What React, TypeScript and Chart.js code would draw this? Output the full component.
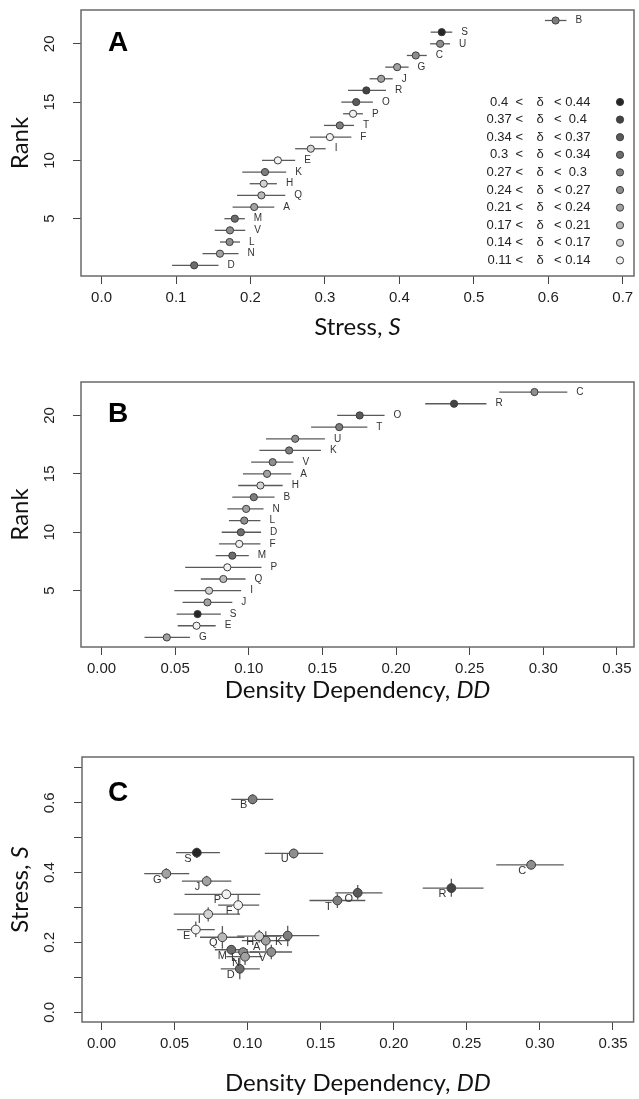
import React, { useEffect, useRef } from "react";
import { Chart, registerables } from "chart.js";
Chart.register(...registerables);

// ---------------- DATA ----------------
const populations = ["A","B","C","D","E","F","G","H","I","J","K","L","M","N","O","P","Q","R","S","T","U","V"];
const stressMean = [0.205,0.6098,0.422,0.1244,0.2368,0.3067,0.397,0.2178,0.281,0.3755,0.2195,0.172,0.179,0.159,0.342,0.3378,0.2147,0.3556,0.4569,0.32,0.4547,0.1725];
const stressLow  = [0.176,0.5955,0.41,0.0947,0.2155,0.28,0.381,0.199,0.26,0.36,0.189,0.159,0.165,0.1356,0.322,0.3244,0.182,0.331,0.442,0.2987,0.4413,0.152];
const stressHigh = [0.232,0.6244,0.4368,0.157,0.26,0.3355,0.4124,0.2355,0.301,0.391,0.248,0.186,0.1924,0.184,0.3644,0.351,0.2467,0.382,0.471,0.339,0.468,0.193];
const ddMean = [0.1124,0.1034,0.294,0.0946,0.0645,0.0935,0.0443,0.1079,0.073,0.0719,0.1274,0.0969,0.0888,0.0982,0.1753,0.0854,0.0827,0.2394,0.0652,0.1614,0.1315,0.1162];
const ddLow  = [0.096,0.0888,0.2701,0.0816,0.0517,0.0798,0.0292,0.0928,0.0494,0.055,0.1072,0.0865,0.0775,0.0854,0.16,0.0568,0.0674,0.2198,0.051,0.1423,0.1117,0.1016];
const ddHigh = [0.1288,0.1175,0.3163,0.1083,0.0775,0.1079,0.06,0.123,0.0948,0.0888,0.149,0.1079,0.1,0.11,0.1922,0.1086,0.0978,0.2614,0.081,0.1805,0.1517,0.1303];
// index into the delta legend classes (0 = 0.4 < δ < 0.44 ... 9 = 0.11 < δ < 0.14)
const deltaClass = [6,4,5,3,9,9,6,8,8,6,4,5,3,6,2,9,7,1,0,4,5,5];

const legendLow  = ["0.4  <","0.37 <","0.34 <","0.3  <","0.27 <","0.24 <","0.21 <","0.17 <","0.14 <","0.11 <"];
const legendHigh = ["< 0.44","<  0.4","< 0.37","< 0.34","<  0.3","< 0.27","< 0.24","< 0.21","< 0.17","< 0.14"];
const legendFill = ["#262626","#444444","#5a5a5a","#6c6c6c","#7e7e7e","#8e8e8e","#a2a2a2","#b8b8b8","#d2d2d2","#f2f2f2"];

const stressTicks = [0,0.1,0.2,0.3,0.4,0.5,0.6,0.7];
const stressTickLabels = ["0.0","0.1","0.2","0.3","0.4","0.5","0.6","0.7"];
const ddTicks = [0,0.05,0.1,0.15,0.2,0.25,0.3,0.35];
const ddTickLabels = ["0.00","0.05","0.10","0.15","0.20","0.25","0.30","0.35"];
const rankTicks = [5,10,15,20];
const rankTickLabels = ["5","10","15","20"];
const stressYTickLabels = ["0.0","","0.2","","0.4","","0.6",""];

// ---------------- STYLE ----------------
const W = 639;
const SANS = '"Liberation Sans", Arial, sans-serif';
const TITLE = 'Lato, "Open Sans", sans-serif';
const TITLE_SIZE = 24;
const TICK_SIZE = 15;
const BAR = "#5a5a5a";
const EDGE = "#3c3c3c";

function rankOf(values: number[]): number[] {
  const order = values.map((_, i) => i).sort((a, b) => values[a] - values[b]);
  const r: number[] = new Array(values.length);
  order.forEach((idx, k) => (r[idx] = k + 1));
  return r;
}
const rankStress = rankOf(stressMean);
const rankDD = rankOf(ddMean);

function scaleOpts(min: number, max: number, ticks: number[], labels: string[] | null, size: number, isX: boolean, pad: number) {
  return {
    type: "linear",
    position: isX ? "bottom" : "left",
    min,
    max,
    afterBuildTicks: (s: any) => { s.ticks = ticks.map((v) => ({ value: v })); },
    afterFit: (s: any) => { if (isX) s.height = size; else s.width = size; },
    grid: { drawOnChartArea: false, drawTicks: true, tickLength: 8, color: "#444", lineWidth: 1 },
    border: { display: false },
    ticks: {
      display: !!labels,
      autoSkip: false,
      maxRotation: 0,
      minRotation: 0,
      padding: pad,
      color: "#1e1e1e",
      font: { family: SANS, size: TICK_SIZE },
      callback: (_v: any, i: number) => (labels ? labels[i] : ""),
    },
  };
}

function segment(x0: number, y0: number, x1: number, y1: number) {
  return {
    type: "line",
    data: [{ x: x0, y: y0 }, { x: x1, y: y1 }],
    borderColor: BAR,
    borderWidth: 1.3,
    pointRadius: 0,
    showLine: true,
    fill: false,
    order: 2,
  };
}

function drawXTitle(ctx: CanvasRenderingContext2D, cx: number, cy: number, normal: string, italic: string) {
  ctx.save();
  ctx.fillStyle = "#111";
  ctx.textBaseline = "middle";
  ctx.textAlign = "left";
  ctx.font = `${TITLE_SIZE}px ${TITLE}`;
  const w1 = ctx.measureText(normal).width;
  ctx.font = `italic ${TITLE_SIZE}px ${TITLE}`;
  const w2 = ctx.measureText(italic).width;
  const x0 = cx - (w1 + w2) / 2;
  ctx.font = `${TITLE_SIZE}px ${TITLE}`;
  ctx.fillText(normal, x0, cy);
  ctx.font = `italic ${TITLE_SIZE}px ${TITLE}`;
  ctx.fillText(italic, x0 + w1, cy);
  ctx.restore();
}

function drawYTitle(ctx: CanvasRenderingContext2D, cx: number, cy: number, normal: string, italic: string) {
  ctx.save();
  ctx.translate(cx, cy);
  ctx.rotate(-Math.PI / 2);
  drawXTitle(ctx, 0, 0, normal, italic);
  ctx.restore();
}

function drawYTickLabels(ctx: CanvasRenderingContext2D, yScale: any, ticks: number[], labels: string[], cx: number) {
  ctx.save();
  ctx.fillStyle = "#1e1e1e";
  ctx.font = `${TICK_SIZE}px ${SANS}`;
  ctx.textAlign = "center";
  ctx.textBaseline = "middle";
  ticks.forEach((v, i) => {
    if (!labels[i]) return;
    const y = yScale.getPixelForValue(v);
    ctx.save();
    ctx.translate(cx, y);
    ctx.rotate(-Math.PI / 2);
    ctx.fillText(labels[i], 0, 0);
    ctx.restore();
  });
  ctx.restore();
}

function drawBox(ctx: CanvasRenderingContext2D, a: any) {
  ctx.save();
  ctx.strokeStyle = "#6a6a6a";
  ctx.lineWidth = 1.5;
  ctx.strokeRect(a.left, a.top, a.right - a.left, a.bottom - a.top);
  ctx.restore();
}

function drawPanelLetter(ctx: CanvasRenderingContext2D, letter: string, x: number, y: number) {
  ctx.save();
  ctx.fillStyle = "#000";
  ctx.font = `bold 28px ${SANS}`;
  ctx.textAlign = "center";
  ctx.textBaseline = "middle";
  ctx.fillText(letter, x, y);
  ctx.restore();
}

const baseOptions = (padTop: number) => ({
  responsive: false,
  animation: false,
  devicePixelRatio: 1,
  events: [],
  layout: { padding: { top: padTop, right: 1, left: 0, bottom: 0 } },
  plugins: { legend: { display: false }, tooltip: { enabled: false } },
});

const pointDataset = (data: { x: number; y: number }[], r: number) => ({
  type: "scatter",
  data,
  pointRadius: r,
  pointBackgroundColor: deltaClass.map((c) => legendFill[c]),
  pointBorderColor: EDGE,
  pointBorderWidth: 1,
  showLine: false,
  order: 0,
});

// ---------------- PANEL A ----------------
function makeA(canvas: HTMLCanvasElement) {
  const datasets: any[] = [pointDataset(populations.map((_, i) => ({ x: stressMean[i], y: rankStress[i] })), 3.6)];
  populations.forEach((_, i) => datasets.push(segment(stressLow[i], rankStress[i], stressHigh[i], rankStress[i])));
  const plugin = {
    id: "panelA",
    afterDatasetsDraw(chart: any) {
      const { ctx, scales, chartArea } = chart;
      const xs = scales.x, ys = scales.y;
      ctx.save();
      ctx.fillStyle = "#333";
      ctx.font = `10px ${SANS}`;
      ctx.textBaseline = "middle";
      ctx.textAlign = "left";
      populations.forEach((p, i) => {
        ctx.fillText(p, xs.getPixelForValue(stressHigh[i]) + 9, ys.getPixelForValue(rankStress[i]));
      });
      // legend
      ctx.font = `13px ${SANS}`;
      ctx.fillStyle = "#222";
      legendLow.forEach((t, k) => {
        const y = 102 + k * 17.6;
        ctx.textAlign = "right";
        ctx.fillText(t, 523, y);
        ctx.textAlign = "center";
        ctx.fillText("δ", 540, y);
        ctx.textAlign = "left";
        ctx.fillText(legendHigh[k], 554, y);
        ctx.beginPath();
        ctx.arc(620, y, 3.6, 0, Math.PI * 2);
        ctx.fillStyle = legendFill[k];
        ctx.fill();
        ctx.strokeStyle = EDGE;
        ctx.lineWidth = 1;
        ctx.stroke();
        ctx.fillStyle = "#222";
      });
      ctx.restore();
      drawBox(ctx, chartArea);
      drawPanelLetter(ctx, "A", 118, 43);
      drawYTickLabels(ctx, ys, rankTicks, rankTickLabels, 50);
      drawXTitle(ctx, (chartArea.left + chartArea.right) / 2, 327, "Stress, ", "S");
      drawYTitle(ctx, 20, (chartArea.top + chartArea.bottom) / 2, "Rank", "");
    },
  };
  return new Chart(canvas, {
    type: "scatter",
    data: { datasets },
    options: {
      ...baseOptions(10),
      scales: {
        x: scaleOpts(-0.0276, 0.7151, stressTicks, stressTickLabels, 345 - 276, true, 5),
        y: scaleOpts(0.084, 22.9, rankTicks, null, 81, false, 0),
      },
    } as any,
    plugins: [plugin],
  } as any);
}

// ---------------- PANEL B ----------------
const B_TOP = 345;
function makeB(canvas: HTMLCanvasElement) {
  const datasets: any[] = [pointDataset(populations.map((_, i) => ({ x: ddMean[i], y: rankDD[i] })), 3.6)];
  populations.forEach((_, i) => datasets.push(segment(ddLow[i], rankDD[i], ddHigh[i], rankDD[i])));
  const plugin = {
    id: "panelB",
    afterDatasetsDraw(chart: any) {
      const { ctx, scales, chartArea } = chart;
      const xs = scales.x, ys = scales.y;
      ctx.save();
      ctx.fillStyle = "#333";
      ctx.font = `10px ${SANS}`;
      ctx.textBaseline = "middle";
      ctx.textAlign = "left";
      populations.forEach((p, i) => {
        ctx.fillText(p, xs.getPixelForValue(ddHigh[i]) + 9, ys.getPixelForValue(rankDD[i]));
      });
      ctx.restore();
      drawBox(ctx, chartArea);
      drawPanelLetter(ctx, "B", 118, 414 - B_TOP);
      drawYTickLabels(ctx, ys, rankTicks, rankTickLabels, 50);
      drawXTitle(ctx, (chartArea.left + chartArea.right) / 2, 690 - B_TOP, "Density Dependency, ", "DD");
      drawYTitle(ctx, 20, (chartArea.top + chartArea.bottom) / 2, "Rank", "");
    },
  };
  return new Chart(canvas, {
    type: "scatter",
    data: { datasets },
    options: {
      ...baseOptions(382 - B_TOP),
      scales: {
        x: scaleOpts(-0.01396, 0.3616, ddTicks, ddTickLabels, 710 - 647, true, 5),
        y: scaleOpts(0.18, 22.86, rankTicks, null, 81, false, 0),
      },
    } as any,
    plugins: [plugin],
  } as any);
}

// ---------------- PANEL C ----------------
const C_TOP = 710;
function makeC(canvas: HTMLCanvasElement) {
  const datasets: any[] = [pointDataset(populations.map((_, i) => ({ x: ddMean[i], y: stressMean[i] })), 4.4)];
  populations.forEach((_, i) => {
    datasets.push(segment(ddLow[i], stressMean[i], ddHigh[i], stressMean[i]));
    datasets.push(segment(ddMean[i], stressLow[i], ddMean[i], stressHigh[i]));
  });
  const plugin = {
    id: "panelC",
    afterDatasetsDraw(chart: any) {
      const { ctx, scales, chartArea } = chart;
      const xs = scales.x, ys = scales.y;
      ctx.save();
      ctx.fillStyle = "#333";
      ctx.font = `11px ${SANS}`;
      ctx.textBaseline = "middle";
      ctx.textAlign = "center";
      populations.forEach((p, i) => {
        ctx.fillText(p, xs.getPixelForValue(ddMean[i]) - 9, ys.getPixelForValue(stressMean[i]) + 6);
      });
      ctx.restore();
      drawBox(ctx, chartArea);
      drawPanelLetter(ctx, "C", 118, 793 - C_TOP);
      drawYTickLabels(ctx, ys, stressTicks, stressYTickLabels, 50);
      drawXTitle(ctx, (chartArea.left + chartArea.right) / 2, 1083 - C_TOP, "Density Dependency, ", "DD");
      drawYTitle(ctx, 20, (chartArea.top + chartArea.bottom) / 2, "Stress, ", "S");
    },
  };
  return new Chart(canvas, {
    type: "scatter",
    data: { datasets },
    options: {
      ...baseOptions(757 - C_TOP),
      scales: {
        x: scaleOpts(-0.01337, 0.3641, ddTicks, ddTickLabels, 1099 - 1022, true, 5),
        y: scaleOpts(-0.028, 0.731, stressTicks, null, 82, false, 0),
      },
    } as any,
    plugins: [plugin],
  } as any);
}

function Panel({ top, height, make }: { top: number; height: number; make: (c: HTMLCanvasElement) => Chart }) {
  const ref = useRef<HTMLCanvasElement>(null);
  useEffect(() => {
    const chart = make(ref.current!);
    return () => chart.destroy();
  }, []);
  return (
    <canvas
      ref={ref}
      width={W}
      height={height}
      style={{ position: "absolute", left: 0, top, width: W, height, display: "block" }}
    />
  );
}

export default function App() {
  return (
    <div style={{ position: "absolute", left: 0, top: 0, width: W, height: 1099, background: "#fff", overflow: "hidden" }}>
      <Panel top={0} height={B_TOP} make={makeA} />
      <Panel top={B_TOP} height={C_TOP - B_TOP} make={makeB} />
      <Panel top={C_TOP} height={1099 - C_TOP} make={makeC} />
    </div>
  );
}
